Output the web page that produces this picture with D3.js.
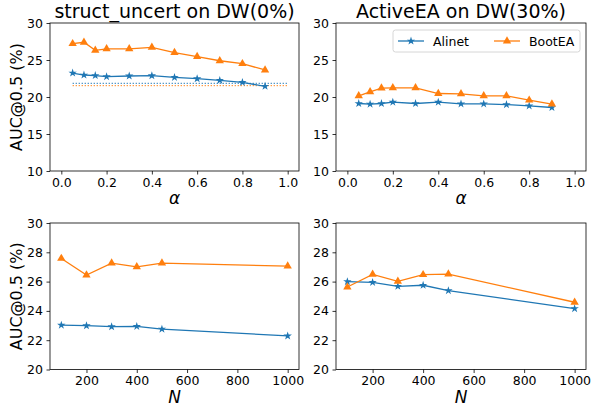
<!DOCTYPE html>
<html>
<head>
<meta charset="utf-8">
<script src="https://cdn.jsdelivr.net/npm/d3@7"></script>
<style>
  body { margin: 0; background: #fff; }
  text { font-family: "DejaVu Sans", sans-serif; fill: #000; }
</style>
</head>
<body>
<script>
// data
var alphas = [0.05, 0.1, 0.15, 0.2, 0.3, 0.4, 0.5, 0.6, 0.7, 0.8, 0.9];
var Ns = [100, 200, 300, 400, 500, 1000];

var structAlinetA = [23.24, 22.97, 22.9, 22.75, 22.84, 22.88, 22.66, 22.47, 22.25, 21.97, 21.45];
var structBootEAA = [27.2, 27.4, 26.3, 26.5, 26.5, 26.7, 26.0, 25.45, 24.9, 24.5, 23.65];
var activeAlinetA = [19.12, 19.03, 19.12, 19.3, 19.12, 19.3, 19.07, 19.07, 18.98, 18.8, 18.58];
var activeBootEAA = [20.16, 20.7, 21.2, 21.24, 21.24, 20.47, 20.43, 20.16, 20.16, 19.57, 19.03];

var structAlinetN = [23.03, 22.99, 22.92, 22.94, 22.76, 22.29];
var structBootEAN = [27.58, 26.45, 27.26, 27.01, 27.26, 27.06];
var activeAlinetN = [26.0, 25.95, 25.68, 25.75, 25.38, 24.16];
var activeBootEAN = [25.63, 26.49, 26.02, 26.47, 26.51, 24.59];

// dotted reference lines (top-left only)
var baseX = [0.05, 1.0];
var baseAlinet = 21.85;
var baseBootEA = 21.53;

var titles = ["struct_uncert on DW(0%)", "ActiveEA on DW(30%)"];
var alphaTicks = [0.0, 0.2, 0.4, 0.6, 0.8, 1.0];
var nTicks = [200, 400, 600, 800, 1000];
var yTicksTop = [10, 15, 20, 25, 30];
var yTicksBottom = [20, 22, 24, 26, 28, 30];

var blue = "#1f77b4", orange = "#ff7f0e";

var svg = d3.select("body").append("svg")
  .attr("width", 592)
  .attr("height", 410);

var cols = [{x0: 50, x1: 299}, {x0: 336, x1: 586}];
var rows = [{y0: 23, y1: 171}, {y0: 223, y1: 369.5}];

var panels = [
  {c: 0, r: 0, xd: [-0.05, 1.05], yd: [10, 30], xs: alphas, a: structAlinetA, b: structBootEAA, xt: alphaTicks, yt: yTicksTop, fmt: d3.format(".1f"), xl: "α", title: titles[0], base: true},
  {c: 1, r: 0, xd: [-0.05, 1.05], yd: [10, 30], xs: alphas, a: activeAlinetA, b: activeBootEAA, xt: alphaTicks, yt: yTicksTop, fmt: d3.format(".1f"), xl: "α", title: titles[1], legend: true},
  {c: 0, r: 1, xd: [55, 1045], yd: [20, 30], xs: Ns, a: structAlinetN, b: structBootEAN, xt: nTicks, yt: yTicksBottom, fmt: d3.format("d"), xl: "N"},
  {c: 1, r: 1, xd: [55, 1045], yd: [20, 30], xs: Ns, a: activeAlinetN, b: activeBootEAN, xt: nTicks, yt: yTicksBottom, fmt: d3.format("d"), xl: "N"}
];

var star = d3.symbol().type(d3.symbolStar).size(22);
var tri = d3.symbol().type(d3.symbolTriangle).size(30);

panels.forEach(function(p) {
  var c = cols[p.c], r = rows[p.r];
  var x = d3.scaleLinear().domain(p.xd).range([c.x0, c.x1]);
  var y = d3.scaleLinear().domain(p.yd).range([r.y1, r.y0]);

  var g = svg.append("g");

  // axes
  var xAxis = g.append("g")
    .attr("transform", "translate(0," + r.y1 + ")")
    .call(d3.axisBottom(x).tickValues(p.xt).tickFormat(p.fmt).tickSize(3.5).tickPadding(3.5));
  var yAxis = g.append("g")
    .attr("transform", "translate(" + c.x0 + ",0)")
    .call(d3.axisLeft(y).tickValues(p.yt).tickSize(3.5).tickPadding(3.5));
  [xAxis, yAxis].forEach(function(ax) {
    ax.select(".domain").remove();
    ax.selectAll("line").attr("stroke", "#000").attr("stroke-width", 0.8);
    ax.selectAll("text").style("font-size", "12.5px").style("font-family", "DejaVu Sans, sans-serif");
  });

  // frame
  g.append("rect")
    .attr("x", c.x0).attr("y", r.y0)
    .attr("width", c.x1 - c.x0).attr("height", r.y1 - r.y0)
    .attr("fill", "none").attr("stroke", "#000").attr("stroke-width", 0.8);

  if (p.base) {
    [[baseAlinet, blue], [baseBootEA, orange]].forEach(function(bl) {
      g.append("line")
        .attr("x1", x(baseX[0])).attr("x2", x(baseX[1]))
        .attr("y1", y(bl[0])).attr("y2", y(bl[0]))
        .attr("stroke", bl[1]).attr("stroke-width", 1)
        .attr("stroke-dasharray", "1.3,1.7");
    });
  }

  var line = d3.line()
    .x(function(d, i) { return x(p.xs[i]); })
    .y(function(d) { return y(d); });

  [[p.a, blue, star], [p.b, orange, tri]].forEach(function(s) {
    g.append("path")
      .attr("d", line(s[0]))
      .attr("fill", "none").attr("stroke", s[1]).attr("stroke-width", 1.3);
    g.selectAll(null)
      .data(s[0])
      .enter()
      .append("path")
      .attr("d", s[2])
      .attr("transform", function(d, i) { return "translate(" + x(p.xs[i]) + "," + y(d) + ")"; })
      .attr("fill", s[1]);
  });

  // x label
  g.append("text")
    .attr("x", (c.x0 + c.x1) / 2)
    .attr("y", r.y1 + 33)
    .attr("text-anchor", "middle")
    .style("font-size", "17px")
    .style("font-style", "italic")
    .text(p.xl);

  if (p.c === 0) {
    g.append("text")
      .attr("transform", "translate(22," + (r.y0 + r.y1) / 2 + ") rotate(-90)")
      .attr("text-anchor", "middle")
      .style("font-size", "16px")
      .text("AUC@0.5 (%)");
  }

  if (p.title) {
    g.append("text")
      .attr("x", (c.x0 + c.x1) / 2)
      .attr("y", 18)
      .attr("text-anchor", "middle")
      .style("font-size", "19px")
      .text(p.title);
  }

  if (p.legend) {
    var lg = g.append("g");
    lg.append("rect")
      .attr("x", 393).attr("y", 30).attr("width", 187).attr("height", 22)
      .attr("rx", 2.5)
      .attr("fill", "#fff").attr("fill-opacity", 0.8)
      .attr("stroke", "#ccc").attr("stroke-width", 0.8);
    var items = [{name: "Alinet", color: blue, sym: star, x: 398}, {name: "BootEA", color: orange, sym: tri, x: 494}];
    items.forEach(function(it) {
      lg.append("line")
        .attr("x1", it.x).attr("x2", it.x + 26)
        .attr("y1", 41).attr("y2", 41)
        .attr("stroke", it.color).attr("stroke-width", 1.3);
      lg.append("path")
        .attr("d", it.sym)
        .attr("transform", "translate(" + (it.x + 13) + ",41)")
        .attr("fill", it.color);
      lg.append("text")
        .attr("x", it.x + 35).attr("y", 45.5)
        .style("font-size", "12.5px")
        .text(it.name);
    });
  }
});
</script>
</body>
</html>
